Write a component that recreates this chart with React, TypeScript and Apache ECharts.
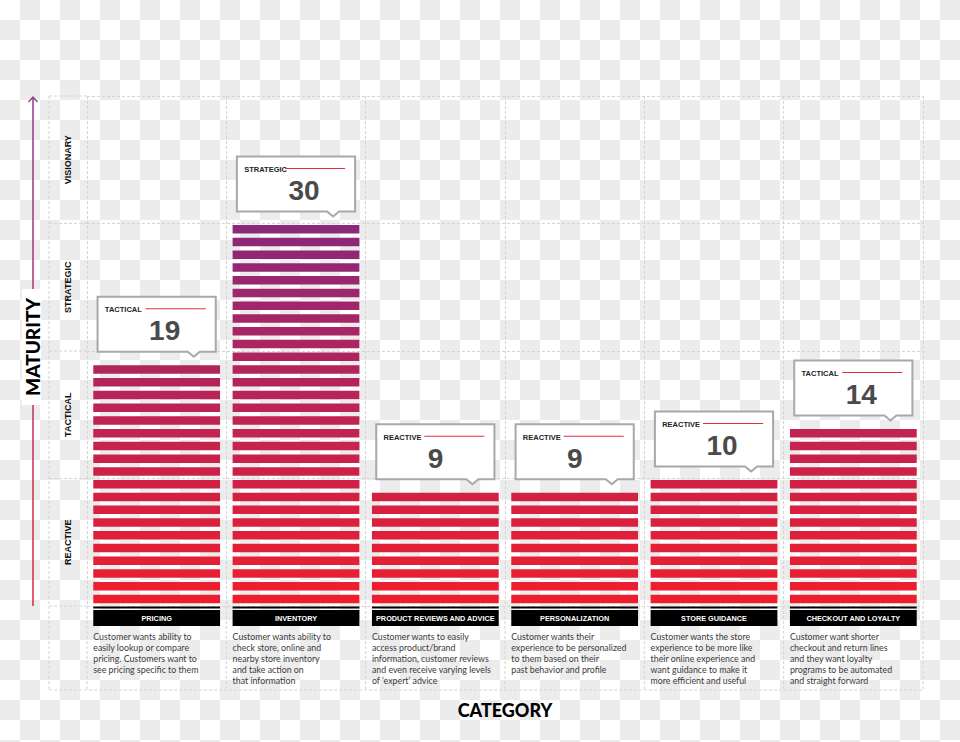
import React, { useEffect, useRef } from 'react';
import * as echarts from 'echarts';

const categories = ['PRICING', 'INVENTORY', 'PRODUCT REVIEWS AND ADVICE', 'PERSONALIZATION', 'STORE GUIDANCE', 'CHECKOUT AND LOYALTY'];
const scores = [19, 30, 9, 9, 10, 14];
const scoreLevels = ['TACTICAL', 'STRATEGIC', 'REACTIVE', 'REACTIVE', 'REACTIVE', 'TACTICAL'];
const descriptions = [
  ['Customer wants ability to', 'easily lookup or compare', 'pricing. Customers want to', 'see pricing specific to them'],
  ['Customer wants ability to', 'check store, online and', 'nearby store inventory', 'and take action on', 'that information'],
  ['Customer wants to easily', 'access product/brand', 'information, customer reviews', 'and even receive varying levels', 'of \u2018expert\u2019 advice'],
  ['Customer wants their', 'experience to be personalized', 'to them based on their', 'past behavior and profile'],
  ['Customer wants the store', 'experience to be more like', 'their online experience and', 'want guidance to make it', 'more efficient and useful'],
  ['Customer want shorter', 'checkout and return lines', 'and they want loyalty', 'programs to be automated', 'and straight forward'],
];
const maturityLevels = ['REACTIVE', 'TACTICAL', 'STRATEGIC', 'VISIONARY'];
const levelSpan = 10;
const maxScore = 40;

const RED = [239, 30, 45];
const PURPLE = [139, 41, 122];
function stripeColor(k: number) {
  const t = Math.min(1, Math.max(0, k / 29));
  const c = RED.map((r, j) => Math.round(r + (PURPLE[j] - r) * t));
  return `rgb(${c[0]},${c[1]},${c[2]})`;
}

const SANS = '"Liberation Sans", Arial, sans-serif';
const BODY = 'Lato, "Open Sans", sans-serif';
const DASH = { stroke: '#d4d4d4', lineWidth: 1, lineDash: [3, 2] };

// transparent-background checkerboard (page decoration)
function checkerboard(width: number, height: number, cell: number) {
  const rects: any[] = [{ type: 'rect', shape: { x: 0, y: 0, width, height }, style: { fill: '#ffffff' } }];
  for (let r = 0; r * cell < height; r++) {
    for (let c = 0; c * cell < width; c++) {
      if ((r + c) % 2 === 1) {
        rects.push({ type: 'rect', shape: { x: c * cell, y: r * cell, width: cell, height: cell }, style: { fill: '#ececec' } });
      }
    }
  }
  return rects;
}

function renderBar(params: any, api: any) {
  const i = api.value(0);
  const v = api.value(1);
  const cx = api.coord([i, 0])[0];
  const base = api.coord([i, 0])[1];
  const bandW = api.size([1, 0])[0];
  const barW = bandW * 0.91;
  const left = cx - barW / 2;
  const children: any[] = [];
  for (let k = 0; k < v; k++) {
    const yTop = api.coord([i, k + 1])[1];
    children.push({
      type: 'rect',
      shape: { x: left, y: yTop + 1.5, width: barW, height: 8.6 },
      style: { fill: stripeColor(k) },
    });
  }
  children.push({ type: 'rect', shape: { x: left, y: base + 0.5, width: barW, height: 2 }, style: { fill: '#000' } });
  children.push({ type: 'rect', shape: { x: left, y: base + 4, width: barW, height: 16 }, style: { fill: '#000' } });
  children.push({
    type: 'text',
    style: {
      text: categories[i], x: cx, y: base + 12.5, align: 'center', verticalAlign: 'middle',
      fill: '#fff', fontSize: 7.3, fontWeight: 'bold', fontFamily: SANS,
    },
  });
  children.push({
    type: 'text',
    style: {
      text: descriptions[i].join('\n'), x: left, y: base + 25.5, align: 'left', verticalAlign: 'top',
      fill: '#3a3a3a', fontSize: 8.8, lineHeight: 10.9, fontFamily: BODY,
    },
  });
  const topY = api.coord([i, v])[1];
  const boxB = topY - 12;
  const boxT = boxB - 55;
  const boxL = left + 4.3;
  const boxR = left + barW - 4.3;
  const px = boxR - 22;
  children.push({
    type: 'polygon',
    shape: {
      points: [[boxL, boxT], [boxR, boxT], [boxR, boxB], [px + 6, boxB], [px, boxB + 5], [px - 6, boxB], [boxL, boxB]],
    },
    style: { fill: '#fff', stroke: '#a8a8a8', lineWidth: 2 },
  });
  children.push({
    type: 'text',
    style: {
      text: scoreLevels[i], x: boxL + 7.3, y: boxT + 13, align: 'left', verticalAlign: 'middle',
      fill: '#222', fontSize: 7.5, fontWeight: 'bold', fontFamily: SANS,
    },
  });
  children.push({
    type: 'line',
    shape: { x1: boxL + 48, y1: boxT + 12, x2: boxR - 10, y2: boxT + 12 },
    style: { stroke: '#e0303e', lineWidth: 1.2 },
  });
  children.push({
    type: 'text',
    style: {
      text: String(v), x: boxL + 51.5, y: boxT + 34, align: 'left', verticalAlign: 'middle',
      fill: '#4a4a4a', fontSize: 28, fontWeight: 'bold', fontFamily: SANS,
    },
  });
  return { type: 'group', children };
}

function renderFrame(params: any, api: any) {
  const cs = params.coordSys;
  const x0 = cs.x, y0 = cs.y, w = cs.width, h = cs.height;
  const labelLeft = x0 - 38;
  const bottom = y0 + h + 84;
  const children: any[] = [];
  children.push({ type: 'line', shape: { x1: labelLeft, y1: y0, x2: labelLeft, y2: bottom }, style: DASH });
  children.push({ type: 'line', shape: { x1: labelLeft, y1: bottom, x2: x0 + w, y2: bottom }, style: DASH });
  for (let b = 0; b <= maturityLevels.length; b++) {
    const y = api.coord([0, b * levelSpan])[1];
    children.push({ type: 'line', shape: { x1: labelLeft, y1: y, x2: x0, y2: y }, style: DASH });
  }
  const bandW = api.size([1, 0])[0];
  for (let c = 0; c <= categories.length; c++) {
    const x = x0 + c * bandW;
    children.push({ type: 'line', shape: { x1: x, y1: y0 + h, x2: x, y2: bottom }, style: DASH });
  }
  maturityLevels.forEach((name, b) => {
    const y = api.coord([0, b * levelSpan + levelSpan / 2])[1];
    children.push({
      type: 'text', x: x0 - 19, y, rotation: Math.PI / 2,
      style: {
        text: name, x: 0, y: 0, align: 'center', verticalAlign: 'middle',
        fill: '#111', fontSize: 9, fontWeight: 'bold', fontFamily: SANS,
      },
    });
  });
  const ax = x0 - 54;
  children.push({
    type: 'rect',
    shape: { x: ax - 0.75, y: y0 + 1, width: 1.5, height: h - 1 },
    style: {
      fill: new echarts.graphic.LinearGradient(0, 0, 0, 1, [
        { offset: 0, color: '#8c3a8e' },
        { offset: 1, color: '#dc2638' },
      ]),
    },
  });
  children.push({
    type: 'polyline',
    shape: { points: [[ax - 4.5, y0 + 6], [ax, y0 + 1], [ax + 4.5, y0 + 6]] },
    style: { stroke: '#8c3a8e', lineWidth: 1.3, fill: null },
  });
  const cy = y0 + h / 2 - 4;
  children.push({ type: 'rect', shape: { x: ax - 11, y: cy - 58, width: 19, height: 116 }, style: { fill: '#fff' } });
  children.push({
    type: 'text', x: ax - 1, y: cy, rotation: Math.PI / 2,
    style: {
      text: 'MATURITY', x: 0, y: 0, align: 'center', verticalAlign: 'middle',
      fill: '#000', fontSize: 19, fontWeight: 900, fontFamily: BODY,
    },
  });
  return { type: 'group', children };
}

export default function App() {
  const ref = useRef<HTMLDivElement>(null);
  useEffect(() => {
    const prevMargin = document.body.style.margin;
    document.body.style.margin = '0';
    const chart = echarts.init(ref.current!, null, { renderer: 'svg' });
    chart.setOption({
      animation: false,
      backgroundColor: 'transparent',
      textStyle: { fontFamily: SANS },
      graphic: {
        elements: [
          { type: 'group', silent: true, z: -100, children: checkerboard(960, 742, 20) },
        ],
      },
      grid: { left: 87, right: 37, top: 96, bottom: 136 },
      xAxis: {
        type: 'category',
        data: categories,
        axisLine: { show: false },
        axisTick: { show: false },
        axisLabel: { show: false },
        splitLine: { show: true, interval: 0, lineStyle: { color: '#d4d4d4', type: [3, 2], width: 1 } },
        name: 'CATEGORY',
        nameLocation: 'middle',
        nameGap: 95,
        nameTextStyle: { fontSize: 18, fontWeight: 900, color: '#000', fontFamily: BODY },
      },
      yAxis: {
        type: 'value',
        min: 0,
        max: maxScore,
        interval: levelSpan,
        axisLine: { show: false },
        axisTick: { show: false },
        axisLabel: { show: false },
        splitLine: { show: true, lineStyle: { color: '#d4d4d4', type: [3, 2], width: 1 } },
      },
      series: [
        {
          type: 'custom',
          name: 'frame',
          clip: false,
          silent: true,
          renderItem: renderFrame,
          data: [[0, 0]],
          encode: { x: 0, y: 1 },
          z: 1,
        },
        {
          type: 'custom',
          name: 'score',
          clip: false,
          renderItem: renderBar,
          data: scores.map((v, i) => [i, v]),
          encode: { x: 0, y: 1 },
          z: 2,
        },
      ],
    });
    return () => {
      chart.dispose();
      document.body.style.margin = prevMargin;
    };
  }, []);
  return (
    <div style={{ position: 'absolute', left: 0, top: 0, width: 960, height: 742 }}>
      <div ref={ref} style={{ width: 960, height: 742 }} />
    </div>
  );
}
